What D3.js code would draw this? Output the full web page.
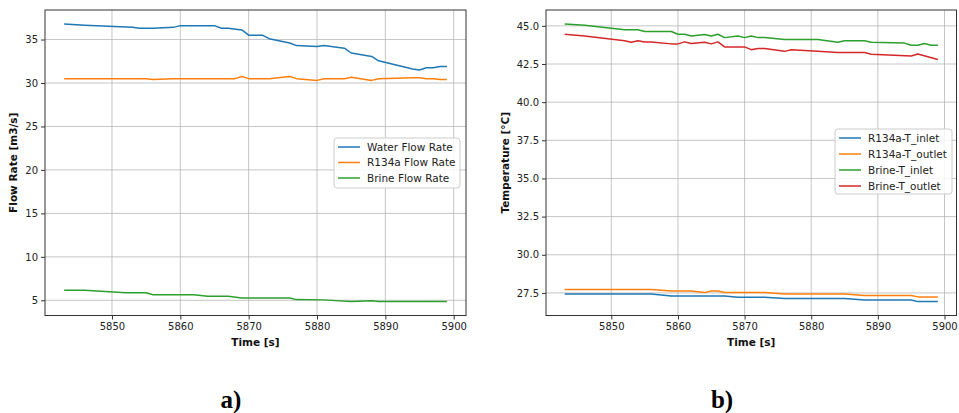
<!DOCTYPE html>
<html><head><meta charset="utf-8">
<script src="https://cdn.jsdelivr.net/npm/d3@7"></script>
<style>
body{margin:0;background:#fff;}
svg{display:block;font-family:"DejaVu Sans",sans-serif;}
</style></head>
<body><svg id="c" width="959" height="413"></svg>
<script>
// ---- Data (panel a: flow rates) ----
const waterT = [5843,5846,5853,5854,5856,5859,5860,5865,5866,5867,5869,5870,5872,5873,5876,5877,5880,5881,5884,5885,5888,5889,5894,5895,5896,5897,5898,5899];
const waterV = [36.8,36.65,36.4,36.3,36.3,36.4,36.6,36.6,36.3,36.3,36.1,35.5,35.5,35.1,34.6,34.3,34.2,34.3,34.0,33.45,33.05,32.55,31.6,31.5,31.75,31.75,31.9,31.9];
const r134aT = [5843,5855,5856,5859,5868,5869,5870,5873,5876,5877,5880,5881,5884,5885,5888,5889,5894,5895,5896,5897,5898,5899];
const r134aV = [30.5,30.5,30.4,30.5,30.5,30.75,30.5,30.5,30.75,30.5,30.3,30.5,30.5,30.65,30.3,30.5,30.6,30.6,30.5,30.5,30.4,30.4];
const brineT = [5843,5846,5852,5855,5856,5862,5864,5867,5869,5876,5877,5881,5885,5888,5889,5899];
const brineV = [6.15,6.15,5.86,5.86,5.65,5.65,5.46,5.46,5.27,5.27,5.08,5.05,4.86,4.94,4.85,4.85];
// ---- Data (panel b: temperatures) ----
const rInT = [5843,5856,5859,5867,5869,5873,5876,5885,5888,5895,5896,5899];
const rInV = [27.43,27.43,27.3,27.3,27.22,27.22,27.13,27.13,27.04,27.04,26.93,26.93];
const rOutT = [5843,5856,5859,5862,5864,5865,5866,5867,5873,5876,5885,5888,5895,5896,5899];
const rOutV = [27.72,27.72,27.63,27.63,27.52,27.62,27.62,27.53,27.53,27.43,27.43,27.33,27.33,27.24,27.24];
const bInT = [5843,5846,5852,5854,5855,5859,5860,5861,5862,5864,5865,5866,5867,5869,5870,5871,5872,5873,5876,5881,5884,5885,5888,5889,5894,5895,5896,5897,5898,5899];
const bInV = [45.13,45.04,44.74,44.74,44.63,44.63,44.45,44.45,44.34,44.43,44.34,44.45,44.23,44.34,44.23,44.34,44.23,44.23,44.1,44.1,43.93,44.02,44.02,43.93,43.87,43.73,43.73,43.85,43.73,43.73];
const bOutT = [5843,5846,5852,5853,5854,5855,5856,5859,5860,5861,5862,5864,5865,5866,5867,5870,5871,5872,5873,5876,5877,5881,5884,5888,5889,5895,5896,5899];
const bOutV = [44.45,44.34,44.03,43.93,44.03,43.95,43.95,43.82,43.82,43.95,43.85,43.93,43.82,43.95,43.62,43.62,43.44,43.52,43.52,43.33,43.44,43.33,43.25,43.25,43.14,43.03,43.16,42.8];

const xTicks = [5850,5860,5870,5880,5890,5900];
const yTicksA = [5,10,15,20,25,30,35];
const yTicksB = [27.5,30,32.5,35,37.5,40,42.5,45];

const seriesA = [
  {name:"Water Flow Rate", t:waterT, v:waterV, color:"#1f77b4"},
  {name:"R134a Flow Rate", t:r134aT, v:r134aV, color:"#ff7f0e"},
  {name:"Brine Flow Rate", t:brineT, v:brineV, color:"#2ca02c"}
];
const seriesB = [
  {name:"R134a-T_inlet", t:rInT, v:rInV, color:"#1f77b4"},
  {name:"R134a-T_outlet", t:rOutT, v:rOutV, color:"#ff7f0e"},
  {name:"Brine-T_inlet", t:bInT, v:bInV, color:"#2ca02c"},
  {name:"Brine-T_outlet", t:bOutT, v:bOutV, color:"#d62728"}
];

const svg = d3.select("#c");

function panel(cfg){
  const {x0,x1,y0,y1,series,yTicks,yFmt,ylabel,ylabelX,legend,tag,tagX} = cfg;
  const allT = series.flatMap(s=>s.t), allV = series.flatMap(s=>s.v);
  const tMin=d3.min(allT), tMax=d3.max(allT), vMin=d3.min(allV), vMax=d3.max(allV);
  const tm=(tMax-tMin)*0.05, vm=(vMax-vMin)*0.05;
  const x = d3.scaleLinear().domain([tMin-tm,tMax+tm]).range([x0,x1]);
  const y = d3.scaleLinear().domain([vMin-vm,vMax+vm]).range([y1,y0]);
  const g = svg.append("g");
  // grid
  g.append("g").selectAll("line").data(xTicks).join("line")
    .attr("x1",d=>x(d)).attr("x2",d=>x(d)).attr("y1",y0).attr("y2",y1)
    .attr("stroke","#b0b0b0").attr("stroke-width",0.9).attr("opacity",0.8);
  g.append("g").selectAll("line").data(yTicks).join("line")
    .attr("y1",d=>y(d)).attr("y2",d=>y(d)).attr("x1",x0).attr("x2",x1)
    .attr("stroke","#b0b0b0").attr("stroke-width",0.9).attr("opacity",0.8);
  // axes
  const xa = g.append("g").attr("transform",`translate(0,${y1})`)
    .call(d3.axisBottom(x).tickValues(xTicks).tickSize(4).tickPadding(3).tickFormat(d3.format("d")));
  const ya = g.append("g").attr("transform",`translate(${x0},0)`)
    .call(d3.axisLeft(y).tickValues(yTicks).tickSize(4).tickPadding(3).tickFormat(yFmt));
  [xa,ya].forEach(a=>{
    a.select(".domain").remove();
    a.selectAll("text").attr("font-size",10).attr("fill","#222").attr("font-family","DejaVu Sans");
    a.selectAll("line").attr("stroke","#333");
  });
  // lines
  const line = d3.line().x(d=>x(d[0])).y(d=>y(d[1]));
  series.forEach(s=>{
    g.append("path").datum(s.t.map((t,i)=>[t,s.v[i]]))
      .attr("d",line).attr("fill","none").attr("stroke",s.color)
      .attr("stroke-width",1.5).attr("stroke-linejoin","round");
  });
  // frame
  g.append("rect").attr("x",x0).attr("y",y0).attr("width",x1-x0).attr("height",y1-y0)
    .attr("fill","none").attr("stroke","#333").attr("stroke-width",1);
  // labels
  g.append("text").attr("x",(x0+x1)/2).attr("y",y1+30).attr("text-anchor","middle")
    .attr("font-size",10.5).attr("font-weight","bold").attr("fill","#111").text("Time [s]");
  g.append("text").attr("transform",`translate(${ylabelX},${(y0+y1)/2}) rotate(-90)`)
    .attr("text-anchor","middle").attr("font-size",10.5).attr("font-weight","bold").attr("fill","#111").text(ylabel);
  // legend
  const lg = g.append("g");
  lg.append("rect").attr("x",legend.x).attr("y",legend.y).attr("width",legend.w).attr("height",legend.h)
    .attr("rx",3).attr("fill","#fff").attr("fill-opacity",0.85).attr("stroke","#ccc");
  series.forEach((s,i)=>{
    const yy = legend.y+9+i*legend.dy;
    lg.append("line").attr("x1",legend.x+4).attr("x2",legend.x+26).attr("y1",yy).attr("y2",yy)
      .attr("stroke",s.color).attr("stroke-width",1.5);
    lg.append("text").attr("x",legend.x+33).attr("y",yy).attr("dy","0.35em")
      .attr("font-size",10.5).attr("fill","#222").text(s.name);
  });
  svg.append("text").attr("x",tagX).attr("y",408).attr("text-anchor","middle")
    .attr("font-family","Liberation Serif, Times New Roman, serif").attr("font-weight","bold")
    .attr("font-size",25).attr("fill","#000").text(tag);
}

panel({x0:45,x1:466,y0:10,y1:315.5,series:seriesA,yTicks:yTicksA,yFmt:d3.format("d"),
  ylabel:"Flow Rate [m3/s]",ylabelX:17,legend:{x:334,y:138,w:126,h:50,dy:15.5},tag:"a)",tagX:231});
panel({x0:546,x1:956.5,y0:10,y1:315.5,series:seriesB,yTicks:yTicksB,yFmt:d3.format(".1f"),
  ylabel:"Temperature [°C]",ylabelX:509,legend:{x:835,y:129,w:117,h:65,dy:16},tag:"b)",tagX:722});
</script></body></html>
